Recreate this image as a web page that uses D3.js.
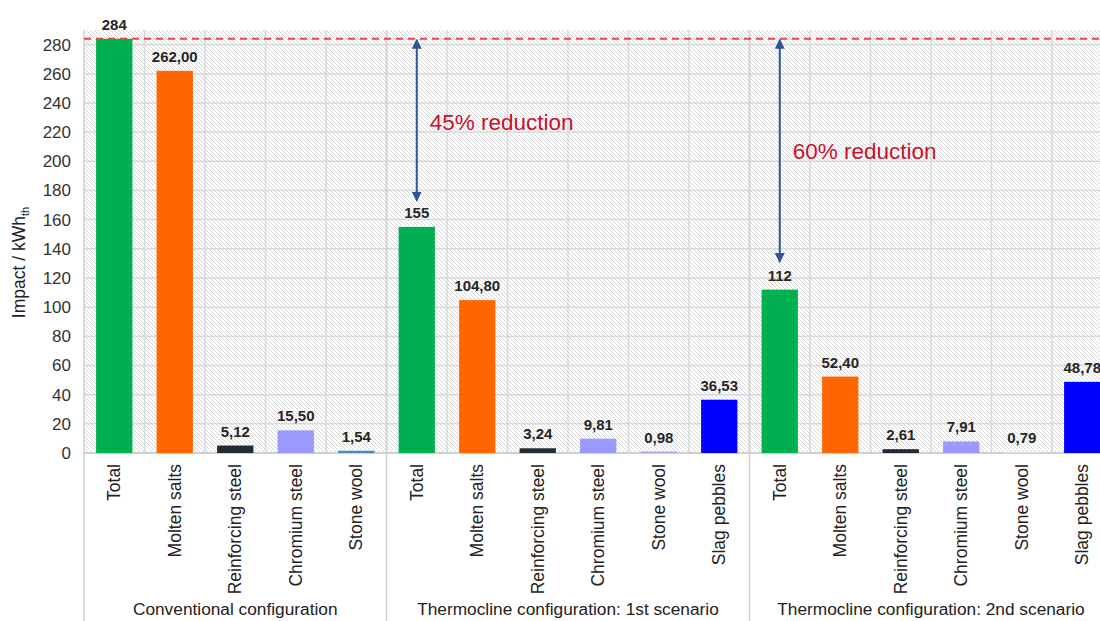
<!DOCTYPE html>
<html>
<head>
<meta charset="utf-8">
<script src="https://cdn.jsdelivr.net/npm/d3@7"></script>
<style>
  html, body { margin: 0; padding: 0; background: #fff; }
  svg { display: block; font-family: "Liberation Sans", Arial, sans-serif; }
</style>
</head>
<body>
<svg id="chart" width="1100" height="621"></svg>
<script>
// Configurations and the components assessed in each one
const groups = [
  "Conventional configuration",
  "Thermocline configuration: 1st scenario",
  "Thermocline configuration: 2nd scenario"
];
const componentsConventional = ["Total", "Molten salts", "Reinforcing steel", "Chromium steel", "Stone wool"];
const componentsThermocline = ["Total", "Molten salts", "Reinforcing steel", "Chromium steel", "Stone wool", "Slag pebbles"];

// Impact per kWh_th
const valuesConventional = [284, 262.00, 5.12, 15.50, 1.54];
const valuesThermocline1 = [155, 104.80, 3.24, 9.81, 0.98, 36.53];
const valuesThermocline2 = [112, 52.40, 2.61, 7.91, 0.79, 48.78];

const yTicks = [0, 20, 40, 60, 80, 100, 120, 140, 160, 180, 200, 220, 240, 260, 280];
const baselineTotal = 284;

// Reduction annotations: arrow from the conventional total down towards each thermocline total
const reductionGroups = [1, 2];
const reductionLabels = ["45% reduction", "60% reduction"];
const reductionArrowEnds = [173, 131];
const reductionLabelLevels = [227, 207];

const componentColors = {
  "Total": "#00b050",
  "Molten salts": "#ff6600",
  "Reinforcing steel": "#222a35",
  "Chromium steel": "#9999ff",
  "Slag pebbles": "#0000ff"
};
const stoneWoolColors = ["#4a86c8", "#a4a4f4", "#e4e4e4"];

// Flatten into one row per bar
const groupComponents = [componentsConventional, componentsThermocline, componentsThermocline];
const groupValues = [valuesConventional, valuesThermocline1, valuesThermocline2];
const rows = [];
groups.forEach((g, gi) => {
  groupComponents[gi].forEach((c, ci) => {
    rows.push({ key: gi + "|" + c, group: gi, name: c, value: groupValues[gi][ci] });
  });
});

const svg = d3.select("#chart");
const plotLeft = 84, plotTop = 30, plotBottom = 453;
const plotRight = plotLeft + 60.5 * rows.length;

const x = d3.scaleBand()
  .domain(rows.map(d => d.key))
  .range([plotLeft, plotRight])
  .paddingInner(0.4)
  .paddingOuter(0.2);
const step = x.step();
const y = d3.scaleLinear().domain([0, 290]).range([plotBottom, plotTop]);

// Hatched plot background
const defs = svg.append("defs");
const pat = defs.append("pattern")
  .attr("id", "hatch")
  .attr("patternUnits", "userSpaceOnUse")
  .attr("width", 4).attr("height", 4);
pat.append("rect").attr("width", 4).attr("height", 4).attr("fill", "#ffffff");
pat.append("path")
  .attr("d", "M-1,-1 L5,5 M-1,3 L1,5 M3,-1 L5,1")
  .attr("stroke", "#d8d8d8").attr("stroke-width", 1);

svg.append("rect")
  .attr("x", plotLeft).attr("y", plotTop)
  .attr("width", plotRight - plotLeft).attr("height", plotBottom - plotTop)
  .attr("fill", "url(#hatch)");

// Horizontal gridlines
svg.append("g").selectAll("line").data(yTicks.filter(t => t > 0)).join("line")
  .attr("x1", plotLeft).attr("x2", plotRight)
  .attr("y1", d => y(d)).attr("y2", d => y(d))
  .attr("stroke", "#d9d9d9").attr("stroke-width", 1.5);

// Vertical gridlines at category boundaries
const boundaries = d3.range(1, rows.length).map(i => plotLeft + i * step);
svg.append("g").selectAll("line").data(boundaries).join("line")
  .attr("x1", d => d).attr("x2", d => d)
  .attr("y1", plotTop).attr("y2", plotBottom)
  .attr("stroke", "#d9d9d9").attr("stroke-width", 1.5);

// Group separators running down through the category axis
let count = 0;
const separators = [plotLeft];
groupComponents.forEach(gc => { count += gc.length; separators.push(plotLeft + count * step); });
svg.append("g").selectAll("line").data(separators).join("line")
  .attr("x1", d => d).attr("x2", d => d)
  .attr("y1", plotTop).attr("y2", 621)
  .attr("stroke", "#d0d0d0").attr("stroke-width", 1.5);

// Category axis baseline
svg.append("line")
  .attr("x1", plotLeft).attr("x2", plotRight)
  .attr("y1", plotBottom).attr("y2", plotBottom)
  .attr("stroke", "#d0d0d0").attr("stroke-width", 2);

// Bars
svg.append("g").selectAll("rect").data(rows).join("rect")
  .attr("x", d => x(d.key))
  .attr("width", x.bandwidth())
  .attr("y", d => y(d.value))
  .attr("height", d => y(0) - y(d.value))
  .attr("fill", d => d.name === "Stone wool" ? stoneWoolColors[d.group] : componentColors[d.name]);

// Value labels
const fmt = d => d.name === "Total" ? d3.format("d")(d.value) : d3.format(".2f")(d.value).replace(".", ",");
svg.append("g").selectAll("text").data(rows).join("text")
  .attr("x", d => x(d.key) + x.bandwidth() / 2)
  .attr("y", d => y(d.value) - 9)
  .attr("text-anchor", "middle")
  .attr("font-size", 15).attr("font-weight", "bold")
  .attr("fill", "#262626")
  .text(fmt);

// Baseline of the conventional total
svg.append("line")
  .attr("x1", plotLeft).attr("x2", plotRight)
  .attr("y1", y(baselineTotal)).attr("y2", y(baselineTotal))
  .attr("stroke", "#e5464b").attr("stroke-width", 2)
  .attr("stroke-dasharray", "7,5");

// Y axis
const yAxis = d3.axisLeft(y).tickValues(yTicks).tickSize(0).tickPadding(13);
const ya = svg.append("g").attr("transform", `translate(${plotLeft},0)`).call(yAxis);
ya.select(".domain").remove();
ya.selectAll("text")
  .attr("font-size", 17)
  .attr("font-family", "Liberation Sans, Arial, sans-serif")
  .attr("fill", "#333");

// Y axis title
const yt = svg.append("text")
  .attr("transform", `translate(25,${(plotTop + plotBottom) / 2 + 21}) rotate(-90)`)
  .attr("text-anchor", "middle")
  .attr("font-size", 17.5).attr("fill", "#222");
yt.append("tspan").text("Impact / kWh");
yt.append("tspan").attr("font-size", 11).attr("dy", 4).text("th");

// Category labels (rotated)
svg.append("g").selectAll("text").data(rows).join("text")
  .attr("transform", d => `translate(${x(d.key) + x.bandwidth() / 2},464) rotate(-90)`)
  .attr("dy", "0.35em")
  .attr("text-anchor", "end")
  .attr("font-size", 17.5).attr("fill", "#222")
  .text(d => d.name);

// Group labels
svg.append("g").selectAll("text").data(groups).join("text")
  .attr("x", (d, i) => (separators[i] + separators[i + 1]) / 2)
  .attr("y", 615)
  .attr("text-anchor", "middle")
  .attr("font-size", 17.3).attr("fill", "#222")
  .text(d => d);

// Reduction arrows
const arrowColor = "#2f5597";
defs.append("marker")
  .attr("id", "arrowhead")
  .attr("viewBox", "0 0 10 10")
  .attr("refX", 9).attr("refY", 5)
  .attr("markerWidth", 5).attr("markerHeight", 5)
  .attr("orient", "auto-start-reverse")
  .append("path").attr("d", "M0,0 L10,5 L0,10 Z").attr("fill", arrowColor);

reductionGroups.forEach((gi, i) => {
  const totalRow = rows.find(r => r.group === gi && r.name === "Total");
  const cx = x(totalRow.key) + x.bandwidth() / 2;
  svg.append("line")
    .attr("x1", cx).attr("x2", cx)
    .attr("y1", y(baselineTotal) + 1).attr("y2", y(reductionArrowEnds[i]))
    .attr("stroke", arrowColor).attr("stroke-width", 2)
    .attr("marker-start", "url(#arrowhead)")
    .attr("marker-end", "url(#arrowhead)");
  svg.append("text")
    .attr("x", cx + 13)
    .attr("y", y(reductionLabelLevels[i]))
    .attr("dy", "0.35em")
    .attr("font-size", 22.5).attr("fill", "#c8102e")
    .text(reductionLabels[i]);
});
</script>
</body>
</html>
